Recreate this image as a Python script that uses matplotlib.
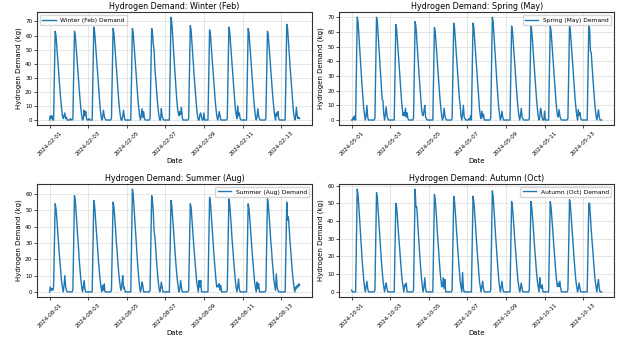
import matplotlib
matplotlib.use("Agg")
import matplotlib.pyplot as plt
import matplotlib.dates as mdates
import numpy as np
import pandas as pd

# Hourly demand (kg), one row of 24 hours per day, 13 days per season
winter_hourly = [
    [0,3,1,3,0,0, 32,63,60,52,44,36,28,21,14,8,3, 1,3,5,1,2,0,0],
    [0,0,1,0,0,1, 32,63,60,52,44,36,28,21,14,8,3, 0,1,7,3,6,1,0],
    [0,1,0,0,0,0, 33,66,63,55,46,38,30,22,15,8,3, 0,2,7,3,1,0,0],
    [0,0,0,0,0,1, 33,65,62,54,46,37,29,21,14,8,3, 0,0,3,7,2,0,0],
    [0,0,0,0,0,0, 33,65,62,54,46,37,29,21,14,8,3, 0,3,8,2,6,1,0],
    [0,0,0,0,0,1, 33,65,62,54,50,37,29,21,14,8,3, 0,0,8,3,1,0,0],
    [0,0,0,0,0,0, 37,73,69,61,51,42,33,24,16,9,5, 3,6,4,9,2,0,0],
    [0,0,0,0,0,1, 34,67,64,56,47,38,30,22,15,8,3, 0,0,4,5,2,0,0],
    [5,0,0,0,0,0, 32,64,61,53,45,36,29,21,14,8,3, 0,2,6,3,0,0,0],
    [0,0,0,0,0,1, 33,66,63,55,46,38,30,22,15,8,4, 1,10,3,5,1,0,0],
    [0,0,0,0,0,0, 33,65,62,54,46,37,29,21,14,8,3, 0,2,8,3,1,0,0],
    [0,0,0,0,0,1, 32,63,60,52,44,36,28,21,14,8,3, 0,5,3,6,1,0,0],
    [0,0,0,0,0,0, 34,68,65,56,48,39,31,22,15,8,3, 0,2,9,3,1,2,1],
]
spring_hourly = [
    [0,0,2,0,3,0, 35,70,67,58,49,40,32,23,15,8,4, 0,3,10,2,0,0,0],
    [0,0,0,0,0,1, 35,70,67,58,49,40,32,23,14,13,4, 0,4,9,3,1,0,0],
    [0,0,0,0,0,0, 33,65,62,54,46,37,29,21,14,8,3, 5,3,8,2,5,1,0],
    [0,0,0,0,0,1, 34,67,64,56,47,38,30,22,15,8,4, 3,6,10,2,1,0,0],
    [0,0,0,0,0,0, 32,63,60,52,44,36,28,21,14,8,3, 0,2,8,3,1,0,0],
    [0,0,0,0,0,1, 33,66,63,55,46,38,30,22,15,10,3, 0,4,10,2,1,0,0],
    [0,0,1,0,3,0, 33,66,63,55,46,38,30,22,15,8,3, 1,6,2,4,0,0,0],
    [0,0,0,0,0,1, 35,70,67,58,49,40,32,23,15,8,4, 0,2,6,2,0,0,0],
    [0,0,0,0,0,0, 32,64,61,53,45,36,29,21,14,8,3, 0,3,8,2,1,0,0],
    [0,0,0,0,0,1, 32,64,61,53,45,36,29,21,14,8,3, 0,2,8,5,1,0,0],
    [6,0,0,0,0,0, 32,64,61,53,45,36,29,21,14,8,3, 2,7,3,1,0,0,0],
    [0,0,0,0,0,1, 32,64,61,53,45,36,29,21,14,8,3, 0,7,3,5,1,0,0],
    [0,0,0,0,0,0, 33,65,62,47,46,37,29,21,14,8,3, 0,3,7,2,0,0,0],
]
summer_hourly = [
    [0,3,1,2,1,3, 27,54,51,45,38,31,24,18,12,6,3, 0,4,10,3,1,0,0],
    [0,0,0,0,0,1, 30,59,56,49,41,34,27,19,13,7,3, 0,3,7,2,0,0,0],
    [0,0,0,0,0,0, 28,56,53,46,39,32,25,18,12,7,3, 0,4,1,5,0,0,0],
    [0,0,0,0,0,1, 28,55,52,46,39,31,25,18,12,7,3, 1,5,10,2,3,0,0],
    [0,0,0,0,0,0, 32,63,60,52,44,36,28,21,14,8,3, 0,2,6,4,0,0,0],
    [0,0,0,0,0,1, 30,59,56,49,37,34,27,19,13,7,3, 0,2,6,3,0,0,0],
    [0,0,0,0,0,0, 28,56,53,46,39,32,25,18,12,7,3, 0,2,7,3,0,0,0],
    [0,0,0,0,0,1, 27,54,52,45,38,31,24,18,12,6,3, 0,7,3,7,0,0,0],
    [0,0,0,0,0,0, 29,58,55,48,41,33,26,19,13,7,3, 4,3,5,1,4,0,0],
    [0,0,0,0,0,1, 29,57,54,47,40,32,26,19,13,7,3, 0,3,8,2,0,0,0],
    [0,0,0,0,0,0, 27,54,51,45,38,31,24,18,12,6,3, 0,6,2,5,0,0,0],
    [0,0,0,0,0,1, 29,57,54,47,40,32,26,19,13,7,4, 1,11,3,1,0,0,0],
    [0,0,0,0,0,0, 28,55,44,46,39,31,25,18,12,7,3, 0,3,2,4,3,5,4],
]
autumn_hourly = [
    [1,0,0,0,0,0, 29,58,55,48,41,33,26,19,13,7,3, 0,3,6,2,0,0,0],
    [0,0,0,0,0,1, 28,56,53,46,39,32,25,18,12,7,3, 0,3,5,2,0,0,0],
    [0,0,0,0,0,0, 25,50,48,42,35,29,23,17,11,6,3, 0,4,3,5,0,0,0],
    [0,0,0,0,0,1, 29,58,48,48,41,33,26,19,13,7,3, 0,3,8,2,0,0,0],
    [0,0,0,0,0,0, 28,55,52,46,39,31,25,18,12,7,3, 3,8,2,7,0,0,0],
    [0,0,0,0,0,1, 27,54,51,45,38,31,24,18,12,6,3, 0,11,2,0,0,0,0],
    [0,0,0,0,0,0, 27,54,51,45,38,31,24,18,12,6,3, 0,3,6,2,0,0,0],
    [0,0,0,0,0,1, 29,57,54,47,40,32,26,19,13,7,3, 0,3,6,2,0,0,0],
    [0,0,0,0,0,0, 26,51,48,42,36,29,23,17,11,6,3, 0,2,5,2,0,0,0],
    [0,0,0,0,0,1, 26,51,48,42,36,29,23,17,11,6,3, 0,8,3,2,4,0,0],
    [0,0,0,0,0,0, 26,51,48,42,36,29,23,17,11,6,3, 5,3,6,2,0,0,0],
    [0,0,0,0,0,1, 26,52,49,43,36,30,23,17,11,6,3, 0,2,5,2,0,0,0],
    [0,0,0,0,0,0, 25,50,50,42,35,29,23,17,11,6,3, 0,4,7,2,0,0,0],
]

titles = ["Hydrogen Demand: Winter (Feb)", "Hydrogen Demand: Spring (May)",
          "Hydrogen Demand: Summer (Aug)", "Hydrogen Demand: Autumn (Oct)"]
labels = ["Winter (Feb) Demand", "Spring (May) Demand",
          "Summer (Aug) Demand", "Autumn (Oct) Demand"]
start_dates = ["2024-02-01", "2024-05-01", "2024-08-01", "2024-10-01"]
legend_locs = ["upper left", "upper right", "upper right", "upper right"]
series = [winter_hourly, spring_hourly, summer_hourly, autumn_hourly]

fig, axes = plt.subplots(2, 2, figsize=(6.28, 3.45), dpi=100)
fig.subplots_adjust(left=0.059, right=0.978, top=0.965, bottom=0.139,
                    wspace=0.098, hspace=0.52)

for ax, data, title, lab, sd, loc in zip(axes.flat, series, titles, labels,
                                         start_dates, legend_locs):
    vals = np.array(data, dtype=float).ravel()
    idx = pd.date_range(sd, periods=len(vals), freq="h")
    ax.plot(idx, vals, color="#1f77b4", lw=1.0, label=lab)
    ax.set_title(title, fontsize=5.8, pad=2)
    ax.set_xlabel("Date", fontsize=5.0, labelpad=1)
    ax.set_ylabel("Hydrogen Demand (kg)", fontsize=5.0, labelpad=2)
    ax.xaxis.set_major_locator(mdates.DayLocator(bymonthday=range(1, 32, 2)))
    ax.xaxis.set_major_formatter(mdates.DateFormatter("%Y-%m-%d"))
    ax.tick_params(axis="both", labelsize=4.1, length=2, width=0.5, pad=1.5)
    for t in ax.get_xticklabels():
        t.set_rotation(45)
    ax.grid(True, color="#cccccc", lw=0.5, alpha=0.7)
    for s in ax.spines.values():
        s.set_linewidth(0.8)
        s.set_color("#333333")
    ax.legend(loc=loc, fontsize=4.3, frameon=True, handlelength=2.2,
              borderpad=0.4, fancybox=True, framealpha=0.8, edgecolor="#cccccc")

fig.savefig("out.png", dpi=100)
